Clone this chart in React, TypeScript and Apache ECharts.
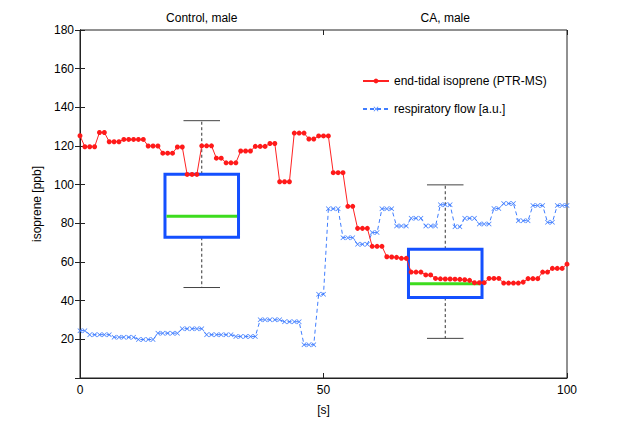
import React, { useEffect, useRef } from "react";
import * as echarts from "echarts";

// Panel titles (one per group)
const groupLabels = ["Control, male", "CA, male"];

// end-tidal isoprene (PTR-MS) [ppb], one sample per second, t = 0..100 s
const isoprene = [
  125.3, 119.6, 119.6, 119.6, 127.0, 127.0, 122.2, 122.2, 122.2, 123.4,
  123.4, 123.4, 123.4, 123.4, 120.0, 120.0, 120.0, 116.3, 116.3, 116.3,
  119.5, 119.5, 105.3, 105.3, 105.3, 120.1, 120.1, 120.1, 113.7, 113.7,
  111.3, 111.3, 111.3, 117.4, 117.4, 117.4, 119.8, 119.8, 119.8, 121.3,
  121.3, 101.5, 101.5, 101.5, 126.7, 126.7, 126.7, 123.6, 123.6, 125.2,
  125.2, 125.2, 106.2, 106.2, 106.2, 88.8, 88.8, 77.4, 77.4, 77.4,
  68.1, 68.1, 68.1, 62.7, 62.6, 62.4, 61.9, 61.9, 54.8, 54.8,
  54.8, 53.3, 53.3, 51.5, 51.3, 51.2, 51.2, 51.1, 51.0, 50.8,
  50.5, 49.3, 49.3, 49.3, 51.5, 51.5, 51.5, 49.1, 49.1, 49.1,
  49.1, 49.6, 51.4, 51.4, 51.4, 54.8, 54.8, 56.7, 56.7, 56.7,
  58.9,
];

// respiratory flow [a.u.], same time base
const flow = [
  24.5, 24.5, 22.4, 22.4, 22.4, 22.4, 22.4, 21.1, 21.1, 21.1,
  21.1, 21.1, 19.9, 19.9, 19.9, 19.9, 23.2, 23.2, 23.2, 23.2,
  23.2, 25.5, 25.5, 25.5, 25.5, 25.5, 22.4, 22.4, 22.4, 22.4,
  22.4, 22.4, 21.5, 21.5, 21.5, 21.5, 21.5, 30.1, 30.1, 30.1,
  30.1, 30.1, 29.1, 29.1, 29.1, 29.1, 17.2, 17.2, 17.2, 43.3,
  43.3, 87.5, 87.5, 87.5, 72.6, 72.6, 72.6, 69.2, 69.2, 69.2,
  75.2, 75.2, 87.5, 87.5, 87.5, 78.6, 78.6, 78.6, 82.6, 82.6,
  82.6, 78.6, 78.6, 78.6, 89.6, 89.6, 89.6, 78.2, 78.2, 82.6,
  82.6, 82.6, 79.7, 79.7, 79.7, 87.7, 87.7, 90.2, 90.2, 90.2,
  81.4, 81.4, 81.4, 89.2, 89.2, 89.2, 80.5, 80.5, 89.2, 89.2,
  89.2,
];

// box statistics: [center t, lower whisker, Q1, median, Q3, upper whisker]
const boxStats = [
  [25, 46.8, 72.8, 83.7, 105.4, 133.1],
  [75, 20.5, 41.6, 48.8, 66.6, 99.9],
];

const xTicks = [0, 50, 100];
const yTickStep = 20;

const FONT = "Liberation Sans, Arial, Helvetica, sans-serif";
const X_PATH =
  "path://M0,1L1,0L5,4L9,0L10,1L6,5L10,9L9,10L5,6L1,10L0,9L4,5Z";

export default function App() {
  const ref = useRef<HTMLDivElement>(null);

  useEffect(() => {
    if (!ref.current) return;
    const chart = echarts.init(ref.current, undefined, { renderer: "svg" });

    const option: any = {
      animation: false,
      backgroundColor: "#fff",
      textStyle: { fontFamily: FONT, color: "#000" },
      grid: {
        left: 80,
        right: 60,
        top: 30,
        bottom: 47,
        show: true,
        borderColor: "#222",
        borderWidth: 1,
        backgroundColor: "transparent",
      },
      legend: {
        orient: "vertical",
        left: 357,
        top: 70,
        itemWidth: 26,
        itemHeight: 6,
        itemGap: 16,
        textStyle: { fontFamily: FONT, fontSize: 12, color: "#000" },
        data: ["end-tidal isoprene (PTR-MS)", "respiratory flow [a.u.]"],
      },
      xAxis: [
        {
          type: "value",
          min: xTicks[0],
          max: xTicks[xTicks.length - 1],
          interval: xTicks[1] - xTicks[0],
          position: "bottom",
          name: "[s]",
          nameLocation: "middle",
          nameGap: 26,
          nameTextStyle: { fontFamily: FONT, fontSize: 12, color: "#000" },
          axisLine: { show: true, lineStyle: { color: "#222" } },
          axisTick: { show: true, inside: true, length: 5, lineStyle: { color: "#222" } },
          axisLabel: { margin: 6, fontSize: 12, color: "#000", fontFamily: FONT },
          splitLine: { show: false },
        },
        {
          type: "category",
          data: groupLabels,
          position: "top",
          boundaryGap: true,
          axisLine: { show: false },
          axisTick: { show: false },
          axisLabel: { margin: 6, fontSize: 12, color: "#000", fontFamily: FONT },
          splitLine: { show: false },
        },
        {
          type: "value",
          min: xTicks[0],
          max: xTicks[xTicks.length - 1],
          interval: xTicks[1] - xTicks[0],
          position: "top",
          axisLine: { show: false },
          axisTick: { show: true, inside: true, length: 5, lineStyle: { color: "#222" } },
          axisLabel: { show: false },
          splitLine: { show: false },
        },
      ],
      yAxis: [
        {
          type: "value",
          min: 0,
          max: 180,
          interval: yTickStep,
          name: "isoprene [ppb]",
          nameLocation: "middle",
          nameGap: 34,
          nameTextStyle: { fontFamily: FONT, fontSize: 12, color: "#000" },
          axisLine: { show: true, lineStyle: { color: "#222" } },
          axisTick: { show: true, inside: true, length: 5, lineStyle: { color: "#222" } },
          axisLabel: {
            margin: 6,
            fontSize: 12,
            color: "#000",
            fontFamily: FONT,
            formatter: (v: number) => (v === 0 ? "" : String(v)),
          },
          splitLine: { show: false },
        },
        {
          type: "value",
          min: 0,
          max: 180,
          interval: yTickStep,
          position: "right",
          axisLine: { show: true, lineStyle: { color: "#222" } },
          axisTick: { show: true, inside: true, length: 5, lineStyle: { color: "#222" } },
          axisLabel: { show: false },
          splitLine: { show: false },
        },
      ],
      series: [
        {
          type: "custom",
          name: "box",
          xAxisIndex: 0,
          yAxisIndex: 0,
          z: 1,
          data: boxStats,
          encode: { x: 0, y: [1, 2, 3, 4, 5] },
          renderItem: (_params: any, api: any) => {
            const x = api.value(0);
            const lo = api.value(1);
            const q1 = api.value(2);
            const med = api.value(3);
            const q3 = api.value(4);
            const hi = api.value(5);
            const hw = 7.55;
            const cw = 3.75;
            const tl = api.coord([x - hw, q3]);
            const br = api.coord([x + hw, q1]);
            const c = (v: number) => api.coord([x, v]);
            const capL = api.coord([x - cw, hi]);
            const capR = api.coord([x + cw, hi]);
            const capLl = api.coord([x - cw, lo]);
            const capRl = api.coord([x + cw, lo]);
            const medL = api.coord([x - hw, med]);
            const medR = api.coord([x + hw, med]);
            const dash = { stroke: "#333", lineWidth: 1, lineDash: [3, 2.5] };
            const cap = { stroke: "#444", lineWidth: 1 };
            return {
              type: "group",
              children: [
                { type: "line", shape: { x1: c(q3)[0], y1: c(q3)[1], x2: c(hi)[0], y2: c(hi)[1] }, style: dash },
                { type: "line", shape: { x1: c(q1)[0], y1: c(q1)[1], x2: c(lo)[0], y2: c(lo)[1] }, style: dash },
                { type: "line", shape: { x1: capL[0], y1: capL[1], x2: capR[0], y2: capR[1] }, style: cap },
                { type: "line", shape: { x1: capLl[0], y1: capLl[1], x2: capRl[0], y2: capRl[1] }, style: cap },
                {
                  type: "rect",
                  shape: { x: tl[0], y: tl[1], width: br[0] - tl[0], height: br[1] - tl[1] },
                  style: { fill: "none", stroke: "#1450ff", lineWidth: 3 },
                },
                {
                  type: "line",
                  shape: { x1: medL[0] + 1.5, y1: medL[1], x2: medR[0] - 1.5, y2: medR[1] },
                  style: { stroke: "#3ddc1e", lineWidth: 3 },
                },
              ],
            };
          },
        },
        {
          type: "line",
          name: "end-tidal isoprene (PTR-MS)",
          xAxisIndex: 0,
          yAxisIndex: 0,
          z: 3,
          data: isoprene.map((v, i) => [i, v]),
          symbol: "circle",
          symbolSize: 5,
          showAllSymbol: true,
          lineStyle: { color: "#ff2222", width: 1 },
          itemStyle: { color: "#ff1a1a" },
        },
        {
          type: "line",
          name: "respiratory flow [a.u.]",
          xAxisIndex: 0,
          yAxisIndex: 0,
          z: 2,
          data: flow.map((v, i) => [i, v]),
          symbol: X_PATH,
          symbolSize: 5,
          showAllSymbol: true,
          lineStyle: { color: "#3f7dff", width: 1, type: [4, 3] },
          itemStyle: { color: "#3f7dff" },
        },
      ],
    };

    chart.setOption(option);
    return () => chart.dispose();
  }, []);

  return (
    <div
      ref={ref}
      style={{ position: "absolute", left: 0, top: 0, width: 627, height: 425 }}
    />
  );
}
